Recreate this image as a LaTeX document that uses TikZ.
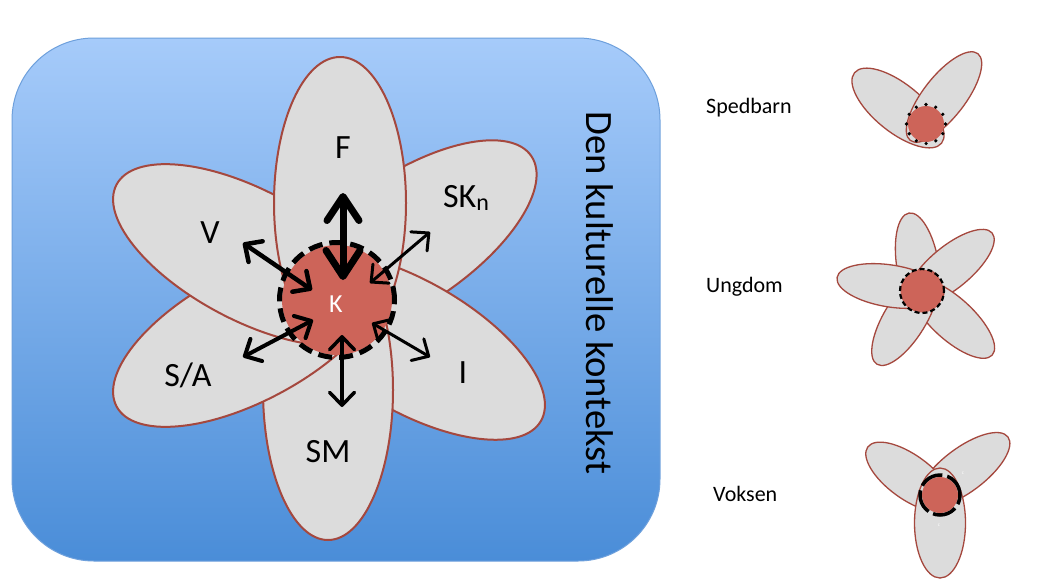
\documentclass[tikz,border=0pt]{standalone}
\usepackage{fontspec}
\setmainfont{Carlito}
\usetikzlibrary{shapes.geometric,arrows.meta}
\definecolor{petalfill}{RGB}{220,220,220}
\definecolor{petaledge}{RGB}{165,72,62}
\definecolor{kred}{RGB}{205,100,89}
\definecolor{bluetop}{RGB}{166,203,250}
\definecolor{bluebot}{RGB}{74,141,216}
\definecolor{blueedge}{RGB}{110,160,220}
\begin{document}
\begin{tikzpicture}[x=1pt,y=1pt,
  petal/.style={ellipse, draw=petaledge, fill=petalfill, line width=2pt, inner sep=0pt, outer sep=0pt},
  bigpetal/.style={petal, minimum width=300pt, minimum height=130pt},
  smallpetal/.style={petal, line width=1.3pt},
  kdisc/.style={circle, fill=kred, inner sep=0pt, outer sep=0pt},
  ringnode/.style={circle, draw=black, inner sep=0pt, outer sep=0pt},
  lbl/.style={font=\fontsize{34}{34}\selectfont, text=black, inner sep=0pt},
  sidelbl/.style={font=\fontsize{22}{22}\selectfont, text=black, inner sep=0pt, anchor=west},
  arr/.style={{Straight Barb[length=13pt,width=25pt,line cap=round,line join=round]}-{Straight Barb[length=13pt,width=25pt,line cap=round,line join=round]}, line width=3.5pt, line cap=round},
  bigarr/.style={{Straight Barb[length=26pt,width=34pt,line cap=round,line join=round]}-{Straight Barb[length=24pt,width=32pt,line cap=round,line join=round]}, line width=7pt},
]
\useasboundingbox (0,0) rectangle (1052,-587);
\fill[white] (0,0) rectangle (1052,-587);

% background box
\node[draw=blueedge, line width=1pt, rounded corners=82pt, top color=bluetop, bottom color=bluebot,
  minimum width=648pt, minimum height=523pt, inner sep=0pt] (bg) at (336,-299.5) {};

% main flower petals (bottom to top)
\node[bigpetal, rotate=34] (pSK) at (407,-240) {};
\node[bigpetal, rotate=-30] (pI) at (411,-346) {};
\node[bigpetal, rotate=90] (pSM) at (328,-390) {};
\node[bigpetal, rotate=28] (pSA) at (249,-336) {};
\node[bigpetal, rotate=-28] (pV) at (249,-255) {};
\node[bigpetal, minimum width=292pt, minimum height=132pt, rotate=90] (pF) at (340,-203) {};

% centre
\node[kdisc, minimum size=110pt] (K) at (337,-300) {};
\node[ringnode, minimum size=115pt, line width=5pt, dash pattern=on 14pt off 7pt] (Kring) at (K) {};
\node[font=\fontsize{26}{26}\selectfont, text=white, inner sep=0pt] (Kl) at (336,-304) {K};

% labels
\node[lbl] (lF) at (343,-148) {F};
\node[lbl] (lV) at (210,-233) {V};
\node[lbl] (lSK) at (466,-198) {SK\raisebox{-3pt}{\fontsize{24}{24}\selectfont n}};
\node[lbl] (lSA) at (188,-375) {S/A};
\node[lbl] (lI) at (463,-373) {I};
\node[lbl] (lSM) at (328,-452) {SM};
\node[font=\fontsize{38.7}{38.7}\selectfont, rotate=-90, inner sep=0pt] (ctx) at (600,-293) {Den kulturelle kontekst};

% arrows
\coordinate (aF1) at (343,-280); \coordinate (aF2) at (343,-193);
\coordinate (aV1) at (312,-290); \coordinate (aV2) at (243,-243);
\coordinate (aS1) at (370,-283); \coordinate (aS2) at (430,-232);
\coordinate (aA1) at (313,-320); \coordinate (aA2) at (243,-357);
\coordinate (aI1) at (372,-323); \coordinate (aI2) at (430,-357);
\coordinate (aM1) at (342,-335); \coordinate (aM2) at (342,-407);
\draw[bigarr] (aF1) -- (aF2);
\draw[arr, line width=4.5pt] (aV1) -- (aV2);
\draw[arr, line width=3pt] (aS1) -- (aS2);
\draw[arr, line width=4pt] (aA1) -- (aA2);
\draw[arr, line width=3pt] (aI1) -- (aI2);
\draw[arr] (aM1) -- (aM2);

% side labels
\node[sidelbl] (tS) at (706,-108) {Spedbarn};
\node[sidelbl] (tU) at (706,-287) {Ungdom};
\node[sidelbl] (tV) at (713,-494) {Voksen};

% Spedbarn flower
\node[smallpetal, minimum width=112pt, minimum height=48pt, rotate=-39] (s1) at (898,-108) {};
\node[smallpetal, minimum width=110pt, minimum height=42pt, rotate=52] (s2) at (944,-97) {};
\node[kdisc, minimum size=36pt] (sK) at (926,-124) {};
\node[ringnode, minimum size=39pt, line width=3.6pt, line cap=round, dash pattern=on 0pt off 10.2pt] (sR) at (sK) {};

% Ungdom flower
\node[smallpetal, minimum width=108pt, minimum height=42pt, rotate=99.5] (u1) at (917.9,-266.3) {};
\node[smallpetal, minimum width=108pt, minimum height=42pt, rotate=39.6] (u2) at (950.5,-267.4) {};
\node[smallpetal, minimum width=108pt, minimum height=42pt, rotate=-42.4] (u3) at (952.3,-318.7) {};
\node[smallpetal, minimum width=108pt, minimum height=42pt, rotate=58.4] (u4) at (905.2,-318.2) {};
\node[smallpetal, minimum width=108pt, minimum height=42pt, rotate=171] (u5) at (890.4,-286) {};
\node[kdisc, minimum size=43pt] (uK) at (922,-291) {};
\node[ringnode, minimum size=44pt, line width=2.2pt, dash pattern=on 5pt off 3pt] (uR) at (uK) {};

% Voksen flower
\node[smallpetal, minimum width=110pt, minimum height=44pt, rotate=37] (v1) at (964,-470) {};
\node[smallpetal, minimum width=102pt, minimum height=44pt, rotate=-36] (v2) at (909,-477) {};
\node[smallpetal, minimum width=110pt, minimum height=51pt, rotate=90] (v3) at (940,-523) {};
\node[kdisc, minimum size=36pt] (vK) at (940,-495) {};
\node[ringnode, minimum size=40pt, line width=3.5pt, dash pattern=on 24pt off 5pt] (vR) at (vK) {};
\node[font=\fontsize{5}{5}\selectfont, text=white, inner sep=0pt] (vc1) at (963,-473) {c};
\node[font=\fontsize{5}{5}\selectfont, text=white, inner sep=0pt] (vc2) at (939,-525) {c};
\end{tikzpicture}
\end{document}
